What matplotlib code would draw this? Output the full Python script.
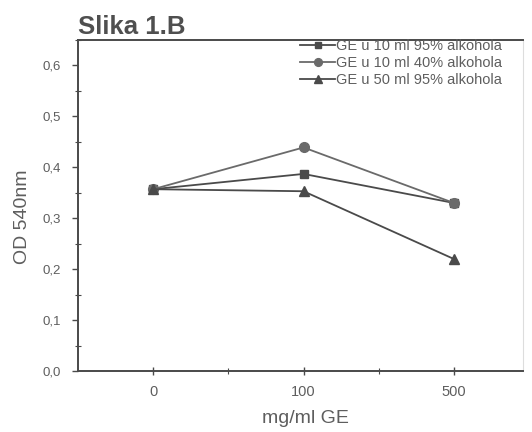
import matplotlib
matplotlib.use("Agg")
import matplotlib.pyplot as plt
from matplotlib.ticker import FixedLocator, MultipleLocator, FuncFormatter

categories = ["0", "100", "500"]
ge_10ml_95 = [0.357, 0.387, 0.330]
ge_10ml_40 = [0.357, 0.439, 0.330]
ge_50ml_95 = [0.357, 0.353, 0.220]
series_labels = ["GE u 10 ml 95% alkohola",
                 "GE u 10 ml 40% alkohola",
                 "GE u 50 ml 95% alkohola"]

ink = "#4a4a4a"
text_c = "#5e5e5e"
plt.rcParams["font.family"] = ["Liberation Sans", "DejaVu Sans"]

W, H = 532, 432
fig = plt.figure(figsize=(W / 100, H / 100), dpi=100)
ax = fig.add_axes([78 / W, 1 - 371 / H, (523 - 78) / W, (371 - 40) / H])

x = list(range(1, len(categories) + 1))
ax.plot(x, ge_10ml_95, color=ink, lw=1.3, marker="s", ms=6, label=series_labels[0])
ax.plot(x, ge_10ml_40, color="#6a6a6a", lw=1.3, marker="o", ms=7, label=series_labels[1])
ax.plot(x, ge_50ml_95, color=ink, lw=1.3, marker="^", ms=7, label=series_labels[2])

ax.set_xlim(0.5, 3.46)
ax.set_ylim(0.0, 0.65)
ax.set_xticks(x)
ax.set_xticklabels(categories)
ax.xaxis.set_minor_locator(FixedLocator([1.5, 2.5]))
ax.yaxis.set_major_locator(MultipleLocator(0.1))
ax.yaxis.set_minor_locator(MultipleLocator(0.05))
ax.yaxis.set_major_formatter(FuncFormatter(lambda v, p: f"{v:.1f}".replace(".", ",")))

for s in ax.spines.values():
    s.set_color(ink)
    s.set_linewidth(1.4)
ax.spines["right"].set_color("#dddddd")
ax.spines["right"].set_linewidth(0.8)

ax.tick_params(axis="both", which="major", colors=ink, labelcolor=text_c,
               labelsize=9.5, length=4, width=1)
ax.tick_params(axis="y", which="major", direction="out", pad=8)
ax.tick_params(axis="x", which="major", direction="inout", length=6, pad=7,
               labelsize=10.5)
ax.tick_params(axis="both", which="minor", colors=ink, direction="inout",
               length=4, width=0.8)

ax.set_xlabel("mg/ml GE", fontsize=14, color=text_c)
ax.set_ylabel("OD 540nm", fontsize=14, color=text_c)
ax.xaxis.set_label_coords(0.512, -0.118)
ax.yaxis.set_label_coords(-0.106, 0.465)
fig.text(78 / W, 1 - 34 / H, "Slika 1.B", fontsize=18.5, fontweight="bold", color="#4f4f4f")

leg = ax.legend(loc="upper left", bbox_to_anchor=(300 / W, 1 - 39 / H),
                bbox_transform=fig.transFigure, frameon=False, fontsize=10.5,
                handlelength=2.4, handletextpad=0.1, labelspacing=0.2,
                borderaxespad=0.0, borderpad=0.0, markerscale=0.8)
for t in leg.get_texts():
    t.set_color(text_c)

fig.savefig("out.png", dpi=100)
